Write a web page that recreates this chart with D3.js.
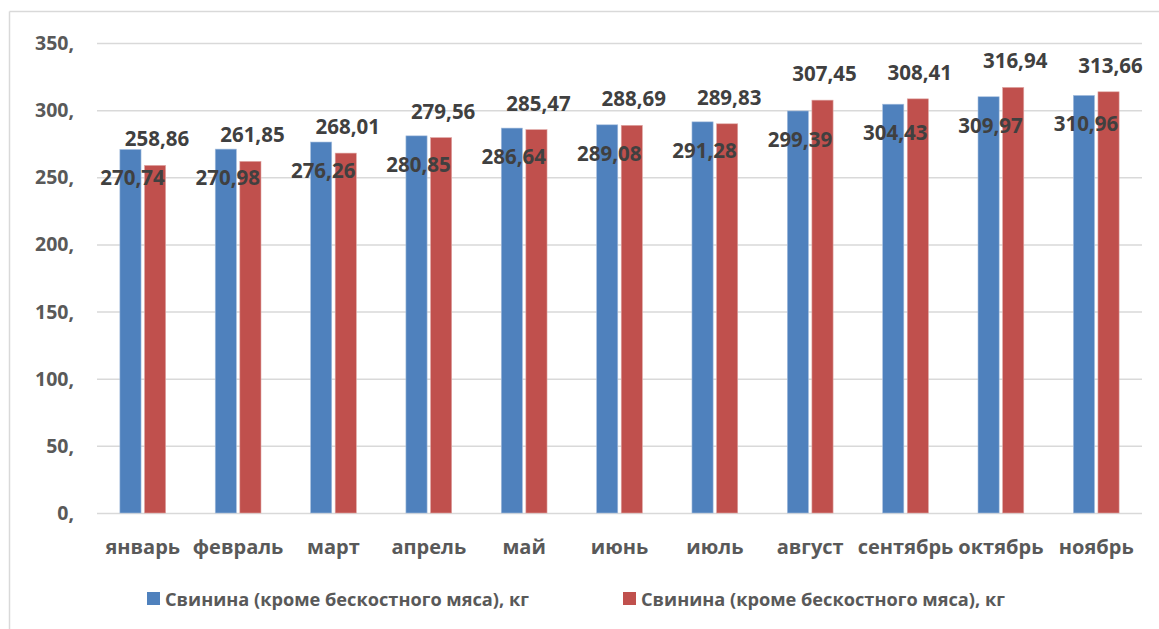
<!DOCTYPE html>
<html>
<head>
<meta charset="utf-8">
<script src="https://cdn.jsdelivr.net/npm/d3@7"></script>
<style>
  body { margin: 0; background: #fff; }
  text { font-family: "Open Sans", "DejaVu Sans", sans-serif; font-weight: bold; }
</style>
</head>
<body>
<svg id="chart" width="1159" height="629"></svg>
<script>
// months and the two series
const months = ["январь", "февраль", "март", "апрель", "май", "июнь", "июль", "август", "сентябрь", "октябрь", "ноябрь"];
const seriesA = [270.74, 270.98, 276.26, 280.85, 286.64, 289.08, 291.28, 299.39, 304.43, 309.97, 310.96];
const seriesB = [258.86, 261.85, 268.01, 279.56, 285.47, 288.69, 289.83, 307.45, 308.41, 316.94, 313.66];
const seriesNames = ["Свинина (кроме бескостного мяса), кг", "Свинина (кроме бескостного мяса), кг"];
const yTicks = [0, 50, 100, 150, 200, 250, 300, 350];

const colors = ["#4F81BD", "#C0504D"];

const svg = d3.select("#chart");

// outer frame (only top and left edges are visible)
svg.append("line").attr("x1", 9.5).attr("x2", 1159).attr("y1", 11.5).attr("y2", 11.5)
  .attr("stroke", "#d9d9d9").attr("stroke-width", 1.5);
svg.append("line").attr("x1", 9.5).attr("x2", 9.5).attr("y1", 11.5).attr("y2", 629)
  .attr("stroke", "#d9d9d9").attr("stroke-width", 1.5);

const plotL = 97, plotR = 1142, plotT = 43, plotB = 513;

const x = d3.scaleBand().domain(months).range([plotL, plotR]).paddingInner(0.52).paddingOuter(0.24);
const xs = d3.scaleBand().domain([0, 1]).range([0, x.bandwidth()]).paddingInner(0.14);
const y = d3.scaleLinear().domain([0, 350]).range([plotB, plotT]);

// gridlines
svg.append("g").selectAll("line").data(yTicks).join("line")
  .attr("x1", plotL).attr("x2", plotR)
  .attr("y1", d => y(d) + 0.5).attr("y2", d => y(d) + 0.5)
  .attr("stroke", "#d9d9d9").attr("stroke-width", 1.5);

// y tick labels
svg.append("g").selectAll("text").data(yTicks).join("text")
  .attr("x", 74).attr("y", d => y(d) + 7)
  .attr("text-anchor", "end")
  .attr("font-size", 19.5).attr("fill", "#595959")
  .text(d => d + ",");

const fmt = v => v.toFixed(2).replace(".", ",");
const all = [seriesA, seriesB];

all.forEach((vals, s) => {
  const g = svg.append("g");
  g.selectAll("rect").data(vals).join("rect")
    .attr("x", (d, i) => x(months[i]) + xs(s))
    .attr("width", xs.bandwidth())
    .attr("y", d => y(d))
    .attr("height", d => y(0) - y(d))
    .attr("fill", colors[s])
    .attr("stroke", s === 0 ? "#a7bfde" : "#e0a8a6").attr("stroke-width", 0.6);
});

// data labels: first series inside the bar top, second above
all.forEach((vals, s) => {
  svg.append("g").selectAll("text").data(vals).join("text")
    .attr("x", (d, i) => x(months[i]) + xs(s) + xs.bandwidth() / 2 + 2)
    .attr("y", d => s === 0 ? y(d) + 36 : y(d) - 19)
    .attr("text-anchor", "middle")
    .attr("font-size", 20.5).attr("fill", "#404040")
    .text(d => fmt(d));
});

// category labels
svg.append("g").selectAll("text").data(months).join("text")
  .attr("x", d => x(d) + x.bandwidth() / 2)
  .attr("y", 554)
  .attr("text-anchor", "middle")
  .attr("font-size", 20).attr("fill", "#595959")
  .text(d => d);

// legend
const legendX = [147, 623];
seriesNames.forEach((name, i) => {
  svg.append("rect").attr("x", legendX[i]).attr("y", 592).attr("width", 13).attr("height", 13)
    .attr("fill", colors[i]);
  svg.append("text").attr("x", legendX[i] + 18).attr("y", 606)
    .attr("font-size", 18.2).attr("fill", "#595959").text(name);
});
</script>
</body>
</html>
